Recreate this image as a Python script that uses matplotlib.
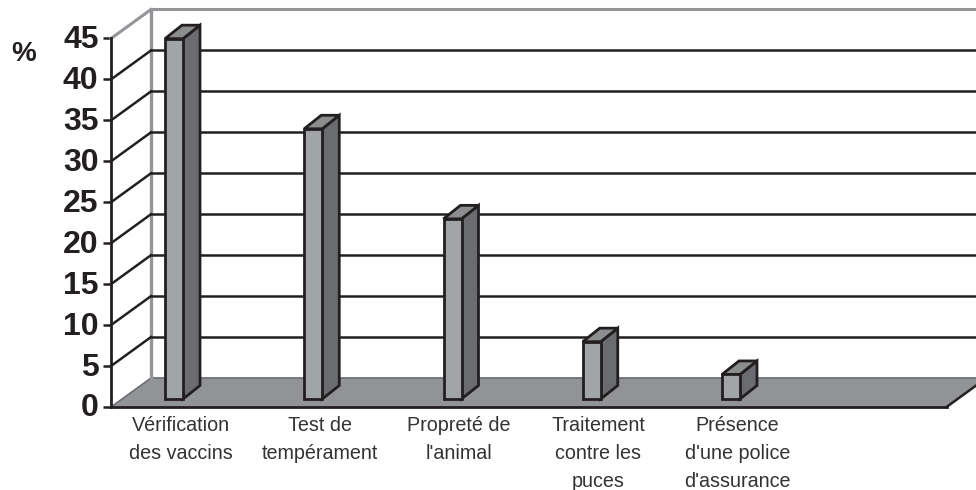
import matplotlib
matplotlib.use("Agg")
import matplotlib.pyplot as plt
from matplotlib.transforms import ScaledTranslation

plt.rcParams['font.family'] = ['Liberation Sans', 'DejaVu Sans']

categories = ["Vérification\ndes vaccins", "Test de\ntempérament", "Propreté de\nl'animal",
              "Traitement\ncontre les\npuces", "Présence\nd'une police\nd'assurance", ""]
values = [44, 33, 22, 7, 3]
y_ticks = [0, 5, 10, 15, 20, 25, 30, 35, 40, 45]

W, H = 976, 490
X0, X1, Y0, Y45 = 111, 946.5, 407, 38.5
px_x = (X1 - X0) / len(categories)
px_y = (Y0 - Y45) / 45

DARK = '#231f20'
WALL = '#939598'
FLOOR = '#929396'
FRONT = '#a2a5a7'
SIDE = '#6b6c6f'
TOP = '#8b8d8f'

fig = plt.figure(figsize=(W / 100, H / 100), dpi=100, facecolor='white')
ax = fig.add_axes([X0 / W, 1 - Y0 / H, (X1 - X0) / W, (Y0 - Y45) / H])
ax.set_xlim(0, len(categories))
ax.set_ylim(0, 45)
ax.patch.set_alpha(0)

# depth of the 3D box, and of a bar, in data units
dx = 40 / px_x
dy = 29 / px_y
bdx = 17 / px_x
bdy = 13.5 / px_y
bw = 18 / px_x
bx = 54 / px_x
by = 8 / px_y
xr = len(categories)

# floor
ax.fill([0, xr, xr + dx, dx], [0, 0, dy, dy], facecolor=FLOOR, edgecolor='none', zorder=1, clip_on=False)
ax.plot([dx, xr + dx], [dy, dy], color='#6d6e71', lw=1.2, zorder=1.5, clip_on=False)
ax.plot([dx, xr + dx], [dy + 0.15, dy + 0.15], color='#d0d1d3', lw=0.8, zorder=1.4, clip_on=False)
ax.plot([0, dx], [0, dy], color='#6d6e71', lw=1.2, zorder=1.5, clip_on=False)
ax.plot([xr, xr + dx], [0, dy], color=DARK, lw=1.8, zorder=1.5, clip_on=False)

# walls and grid
ax.plot([dx, dx], [dy, 45 + dy], color=WALL, lw=2.4, zorder=2, clip_on=False)
ax.plot([0, dx, xr + dx], [45, 45 + dy, 45 + dy], color=WALL, lw=2.2, zorder=2, clip_on=False)
for v in y_ticks[1:-1]:
    ax.plot([0, dx], [v, v + dy], color=DARK, lw=1.8, zorder=2, clip_on=False)
    ax.plot([dx, xr + dx], [v + dy, v + dy], color=DARK, lw=1.8, zorder=2, clip_on=False)

# bars
for i, v in enumerate(values):
    l = i + bx
    r = l + bw
    b = by
    t = b + v
    edge = dict(edgecolor=DARK, linewidth=2.0, joinstyle='miter', zorder=3, clip_on=False)
    ax.fill([r, r + bdx, r + bdx, r], [b, b + bdy, t + bdy, t], facecolor=SIDE, **edge)
    ax.fill([l, r, r + bdx, l + bdx], [t, t, t + bdy, t + bdy], facecolor=TOP, **edge)
    ax.fill([l, r, r, l], [b, b, t, t], facecolor=FRONT, **edge)

# axes
for s in ['top', 'right']:
    ax.spines[s].set_visible(False)
for s in ['left', 'bottom']:
    ax.spines[s].set_color(DARK)
    ax.spines[s].set_linewidth(2.0)
    ax.spines[s].set_zorder(4)
ax.set_yticks(y_ticks)
ax.set_yticklabels([str(v) for v in y_ticks], fontsize=23, fontweight='bold', color=DARK)
ax.tick_params(axis='y', length=6, width=1.8, color=DARK, pad=3)
shift = ScaledTranslation(0, 2 / 100, fig.dpi_scale_trans)
for lab in ax.get_yticklabels():
    lab.set_transform(lab.get_transform() + shift)
ax.set_xticks([i + 0.5 for i in range(len(categories))])
ax.set_xticklabels(categories, fontsize=14.2, color='#333333', linespacing=1.6, va='top')
ax.tick_params(axis='x', length=0, pad=6.5)

fig.text(24 / W, 1 - 54 / H, '%', fontsize=20, fontweight='bold', color=DARK, ha='center', va='center')

fig.savefig('out.png', dpi=100)
